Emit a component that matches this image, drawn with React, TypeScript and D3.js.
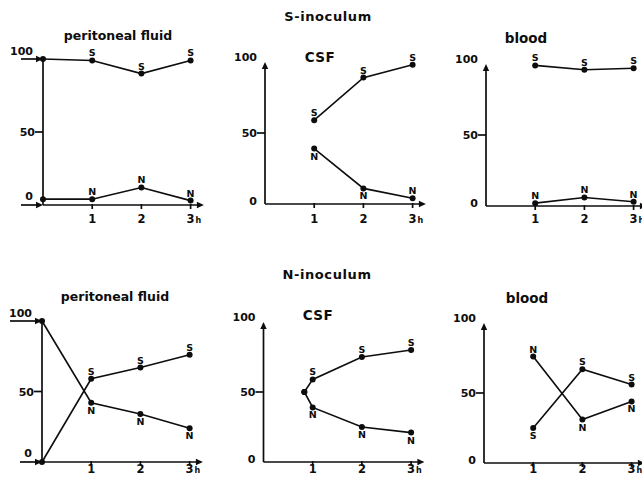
import React from "react";
import * as d3 from "d3";

const hours = [1, 2, 3];
const yTickValues = [0, 50, 100];
const groupTitles = ["S-inoculum", "N-inoculum"];
const fluidTitles = ["peritoneal fluid", "CSF", "blood"];

// S-inoculum: [hour, percent]
const sPeritonealS = [[0, 100], [1, 99], [2, 90], [3, 99]];
const sPeritonealN = [[0, 4], [1, 4], [2, 12], [3, 3]];
const sCsfS = [[1, 59], [2, 89], [3, 98]];
const sCsfN = [[1, 39], [2, 11], [3, 4]];
const sBloodS = [[1, 99], [2, 96], [3, 97]];
const sBloodN = [[1, 2], [2, 6], [3, 3]];

// N-inoculum
const nPeritonealS = [[0, 0], [1, 59], [2, 67], [3, 76]];
const nPeritonealN = [[0, 100], [1, 42], [2, 34], [3, 24]];
const nCsfS = [[0.83, 50], [1, 59], [2, 75], [3, 80]];
const nCsfN = [[0.83, 50], [1, 39], [2, 25], [3, 21]];
const nBloodS = [[1, 25], [2, 67], [3, 56]];
const nBloodN = [[1, 76], [2, 31], [3, 44]];

const FONT = "'DejaVu Sans', 'Liberation Sans', sans-serif";
const HOUR = 49.2;
const INK = "#0d0d0d";

// layout per panel (positions only)
const panels = [
  { title: 0, s: sPeritonealS, n: sPeritonealN, x0: 43, y0: 205, yTop: 59, input: [22, 22], sSide: "uuu", nSide: "uuu", tx: 118, ty: 40, labY: 223 },
  { title: 1, s: sCsfS, n: sCsfN, x0: 265, y0: 204, yTop: 62, sSide: "uuu", nSide: "ddu", tx: 320, ty: 62, labY: 223 },
  { title: 2, s: sBloodS, n: sBloodN, x0: 486, y0: 206, yTop: 64, sSide: "uuu", nSide: "uuu", tx: 526, ty: 43, labY: 223 },
  { title: 0, s: nPeritonealS, n: nPeritonealN, x0: 42, y0: 462, yTop: 321, input: [32, 22], sSide: "uuu", nSide: "ddd", tx: 115, ty: 301, labY: 473 },
  { title: 1, s: nCsfS, n: nCsfN, x0: 263.5, y0: 462, yTop: 322, sSide: "uuu", nSide: "ddd", tx: 318, ty: 320, labY: 473 },
  { title: 2, s: nBloodS, n: nBloodN, x0: 484, y0: 463, yTop: 323, sSide: "duu", nSide: "udd", tx: 527, ty: 303, labY: 473 },
];

const head = (tx, ty, dx, dy) => {
  const L = 7, W = 3.2;
  const bx = tx - dx * L, by = ty - dy * L;
  return `M${tx},${ty}L${bx - dy * W},${by + dx * W}L${bx + dy * W},${by - dx * W}Z`;
};

function Panel({ p }) {
  const x = d3.scaleLinear().domain([0, 3]).range([p.x0, p.x0 + 3 * HOUR]);
  const y = d3.scaleLinear().domain([0, 100]).range([p.y0, p.yTop]);
  const line = d3.line().x((d) => x(d[0])).y((d) => y(d[1]));
  const xEnd = x(3.27);

  const series = [
    { key: "S", data: p.s, side: p.sSide },
    { key: "N", data: p.n, side: p.nSide },
  ];

  return (
    <g>
      <text x={p.tx} y={p.ty} textAnchor="middle" fontSize={p.title === 0 ? 12.5 : 13.5} letterSpacing={p.title === 1 ? 0.5 : 0} fontWeight="bold">
        {fluidTitles[p.title]}
      </text>

      {/* x axis */}
      <line x1={x(0)} x2={xEnd - 4} y1={p.y0} y2={p.y0} stroke={INK} strokeWidth={1.7} />
      <path d={head(xEnd, p.y0, 1, 0)} fill={INK} />
      {hours.map((h) => (
        <g key={h}>
          <line x1={x(h)} x2={x(h)} y1={p.y0 - 1} y2={p.y0 + 4} stroke={INK} strokeWidth={1.7} />
          <text x={x(h)} y={p.labY} textAnchor="middle" fontSize={11.5} fontWeight="bold">{h}</text>
          {h === 3 && (
            <text x={x(h) + 5} y={p.labY} fontSize={8} fontWeight="bold">h</text>
          )}
        </g>
      ))}

      {/* y axis */}
      {p.input ? (
        <g>
          <line x1={p.x0} x2={p.x0} y1={y(100)} y2={p.y0} stroke={INK} strokeWidth={1.7} />
          <line x1={p.x0 - p.input[0]} x2={p.x0 - 5} y1={y(100)} y2={y(100)} stroke={INK} strokeWidth={1.7} />
          <path d={head(p.x0, y(100), 1, 0)} fill={INK} />
          <line x1={p.x0 - p.input[1]} x2={p.x0 - 5} y1={p.y0} y2={p.y0} stroke={INK} strokeWidth={1.7} />
          <path d={head(p.x0, p.y0, 1, 0)} fill={INK} />
          <text x={p.x0 - 10} y={y(100) - 4} textAnchor="end" fontSize={11} fontWeight="bold">{yTickValues[2]}</text>
          <text x={p.x0 - 10} y={p.y0 - 5} textAnchor="end" fontSize={11} fontWeight="bold">{yTickValues[0]}</text>
        </g>
      ) : (
        <g>
          <line x1={p.x0} x2={p.x0} y1={y(100) + 4} y2={p.y0} stroke={INK} strokeWidth={1.7} />
          <path d={head(p.x0, y(100), 0, -1)} fill={INK} />
          <text x={p.x0 - 8} y={y(100) - 1} textAnchor="end" fontSize={11} fontWeight="bold">{yTickValues[2]}</text>
          <text x={p.x0 - 8} y={p.y0 + 1} textAnchor="end" fontSize={11} fontWeight="bold">{yTickValues[0]}</text>
        </g>
      )}
      <line x1={p.x0 - 8} x2={p.x0} y1={y(50)} y2={y(50)} stroke={INK} strokeWidth={1.7} />
      <text x={p.x0 - 8} y={y(50) + 4} textAnchor="end" fontSize={11} fontWeight="bold">{yTickValues[1]}</text>

      {/* series */}
      {series.map((s) => (
        <g key={s.key}>
          <path d={line(s.data)} fill="none" stroke={INK} strokeWidth={1.6} />
          {s.data.map((d, i) => (
            <circle key={i} cx={x(d[0])} cy={y(d[1])} r={3} fill={INK} />
          ))}
          {s.data
            .filter((d) => hours.includes(d[0]))
            .map((d) => {
              const up = s.side[d[0] - 1] === "u";
              return (
                <text key={d[0]} x={x(d[0])} y={up ? y(d[1]) - 4 : y(d[1]) + 11} textAnchor="middle" fontSize={9.5} fontWeight="bold">
                  {s.key}
                </text>
              );
            })}
        </g>
      ))}
    </g>
  );
}

export default function App() {
  return (
    <svg width={642} height={483} style={{ position: "absolute", left: 0, top: 0, background: "#fff" }} fontFamily={FONT} fill={INK}>
      <text x={328} y={21} textAnchor="middle" fontSize={13} fontWeight="bold" letterSpacing={0.6}>{groupTitles[0]}</text>
      <text x={327} y={279} textAnchor="middle" fontSize={13} fontWeight="bold" letterSpacing={0.6}>{groupTitles[1]}</text>
      {panels.map((p, i) => (
        <Panel key={i} p={p} />
      ))}
    </svg>
  );
}
